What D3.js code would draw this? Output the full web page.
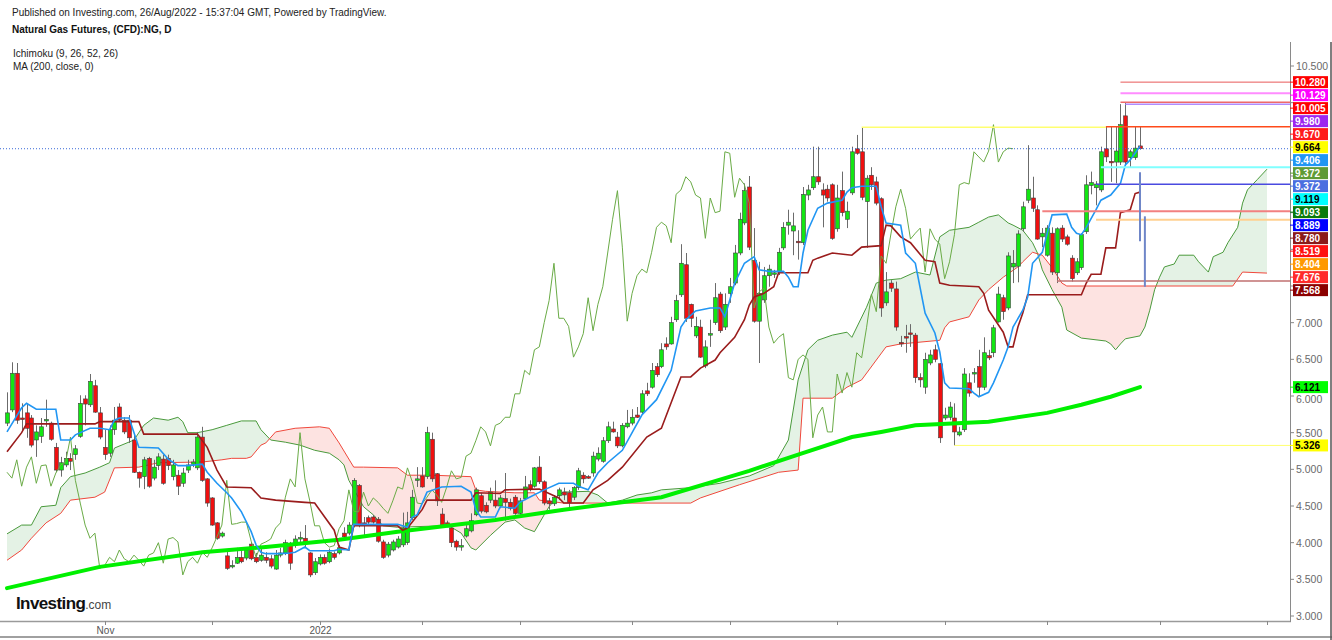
<!DOCTYPE html>
<html><head><meta charset="utf-8">
<script src="https://cdn.jsdelivr.net/npm/d3@7"></script>
<style>body{margin:0;background:#fff}svg{display:block;font-family:Arial,"Liberation Sans",sans-serif}</style>
</head><body><svg id="c" width="1332" height="640"></svg>
<script>
// ---- DATA ----
const openP=[5.63,5.81,6.31,5.70,5.77,5.70,5.40,5.45,5.67,5.63,5.30,4.99,5.06,5.15,5.20,5.45,5.96,5.88,6.14,5.77,5.30,5.22,5.54,5.85,5.67,5.67,5.40,4.96,4.90,5.15,4.88,5.05,5.14,5.15,4.90,4.92,4.81,4.99,5.07,5.02,5.44,4.87,4.61,4.27,4.09,3.82,3.67,3.72,3.80,3.79,3.98,3.80,3.76,3.80,3.78,3.64,3.83,3.86,3.97,3.97,4.06,4.06,3.86,3.59,3.71,3.80,3.74,3.85,3.86,4.13,4.13,4.24,4.78,4.27,4.34,4.35,4.32,4.01,3.83,3.90,3.94,3.97,4.00,4.34,4.86,4.91,4.90,5.41,4.94,4.39,4.27,4.20,4.02,3.95,4.09,4.16,4.38,4.64,4.51,4.58,4.58,4.50,4.60,4.55,4.62,4.40,4.60,4.79,4.77,5.03,4.83,4.57,4.53,4.64,4.69,4.68,4.62,4.75,4.92,4.90,4.95,5.14,5.11,5.39,5.55,5.44,5.32,5.58,5.63,5.74,5.78,6.07,6.12,6.40,6.40,6.71,6.71,7.04,7.38,7.79,7.25,6.82,6.94,6.41,6.84,7.00,7.39,6.94,7.40,7.54,7.95,8.36,8.85,7.85,7.02,7.31,7.64,7.67,7.69,8.02,8.33,8.25,8.11,8.09,8.74,8.84,8.99,8.81,8.82,8.88,8.28,8.80,8.41,8.77,9.37,9.33,8.65,9.01,8.92,8.69,7.27,7.54,7.46,6.73,6.81,6.86,6.83,6.25,6.12,6.45,6.63,6.44,5.70,5.71,5.70,5.47,5.54,6.18,6.31,6.40,6.12,6.55,6.59,7.01,7.34,7.20,7.76,7.77,8.28,8.67,8.70,8.54,8.17,7.92,8.22,7.68,8.29,8.17,7.88,7.68,7.75,8.24,8.87,8.84,8.81,9.37,9.20,9.19,9.19,9.82,9.25,9.25,9.41];
const highP=[6.05,6.46,6.45,5.90,5.90,5.74,5.60,5.70,5.95,5.65,5.36,5.17,5.24,5.22,5.33,6.01,6.01,6.30,6.22,5.85,5.54,5.60,5.85,5.90,5.71,5.74,5.47,4.97,5.17,5.17,5.13,5.22,5.20,5.20,5.13,4.99,5.02,5.13,5.14,5.51,5.58,4.88,4.62,4.28,4.15,3.90,3.76,3.93,3.93,3.94,4.01,3.86,3.93,3.87,3.83,3.90,3.93,4.04,4.01,4.10,4.15,4.24,3.87,3.79,3.84,3.84,3.92,3.88,3.97,4.21,4.28,4.88,4.80,4.35,4.37,4.38,4.35,4.04,4.01,4.04,4.09,4.41,4.42,4.72,5.03,5.03,5.58,5.50,4.95,4.47,4.30,4.22,4.04,4.05,4.24,4.40,4.75,4.68,4.55,4.75,4.85,4.65,4.95,4.60,4.65,4.61,4.91,4.85,5.03,5.18,4.85,4.61,4.65,4.75,4.75,4.72,4.77,5.02,4.96,4.92,5.24,5.30,5.44,5.65,5.65,5.51,5.63,5.81,5.82,5.85,6.08,6.18,6.45,6.45,6.72,6.80,7.08,7.38,8.07,7.95,7.26,7.08,7.04,6.76,7.04,7.54,7.42,7.40,7.61,8.06,8.50,8.90,9.00,8.29,7.83,7.76,7.79,7.72,8.02,8.37,8.54,8.50,8.26,8.85,8.88,9.40,9.40,8.90,8.88,8.90,8.88,9.06,8.65,9.40,9.56,9.664,9.01,9.12,8.99,8.71,7.69,7.58,7.56,6.82,6.97,6.98,6.86,6.31,6.59,6.63,6.70,6.45,5.84,5.92,5.90,5.58,6.38,6.31,6.38,6.63,6.80,6.63,6.97,7.49,7.38,7.96,7.99,8.26,8.65,9.42,8.99,8.60,8.29,8.33,8.30,8.30,8.33,8.20,7.92,7.88,8.22,9.01,9.06,8.93,9.40,9.67,9.67,9.67,9.98,10.005,9.36,9.67,9.67];
const lowP=[5.59,5.78,5.62,5.51,5.43,5.30,5.17,5.36,5.58,5.39,4.96,4.90,5.03,4.99,5.13,5.43,5.60,5.85,5.77,5.41,5.13,5.17,5.47,5.65,5.48,5.36,4.95,4.75,4.73,4.75,4.85,4.99,4.79,4.99,4.85,4.65,4.76,4.95,5.03,4.99,4.83,4.49,4.23,4.04,4.07,3.63,3.65,3.71,3.72,3.76,3.76,3.72,3.74,3.72,3.65,3.63,3.80,3.83,3.63,3.93,4.00,3.94,3.53,3.56,3.69,3.70,3.72,3.77,3.84,4.05,4.10,4.21,4.21,4.10,4.25,4.26,4.00,3.78,3.80,3.88,3.92,3.94,3.97,4.31,4.76,4.75,4.87,4.83,4.50,4.20,4.21,3.94,3.89,3.89,4.07,4.14,4.36,4.40,4.40,4.54,4.47,4.47,4.30,4.44,4.38,4.35,4.58,4.70,4.75,4.80,4.51,4.45,4.50,4.58,4.58,4.47,4.58,4.72,4.81,4.87,4.90,5.11,5.09,5.36,5.50,5.29,5.30,5.56,5.60,5.70,5.75,6.00,6.10,6.26,6.38,6.63,6.70,7.01,7.35,7.01,6.94,6.79,6.52,6.38,6.67,6.97,6.86,6.90,7.27,7.51,7.92,8.33,7.99,7.00,6.45,7.27,7.49,7.61,7.65,7.99,8.20,7.92,7.86,8.06,8.67,8.81,8.88,8.30,8.65,8.13,8.24,8.45,8.29,8.74,9.29,8.67,8.02,8.81,8.60,7.08,7.23,7.42,6.89,6.67,6.59,6.67,6.18,6.12,6.03,6.42,6.46,5.36,5.67,5.67,5.326,5.45,5.51,5.99,6.18,5.99,6.08,6.49,6.53,7.00,7.04,7.17,7.54,7.55,8.24,8.63,8.51,8.13,8.03,7.90,7.65,7.54,8.10,8.05,7.56,7.65,7.72,8.21,8.75,8.60,8.78,9.19,8.92,8.90,9.15,9.15,9.12,9.22,9.36];
const closeP=[5.77,6.31,5.67,5.69,5.56,5.33,5.51,5.58,5.68,5.41,4.99,5.09,5.15,5.11,5.28,5.90,5.89,6.20,5.78,5.44,5.20,5.54,5.67,5.67,5.51,5.43,4.96,4.88,5.13,4.77,5.03,5.17,4.81,5.05,5.06,4.77,4.95,5.06,5.10,5.44,4.85,4.54,4.24,4.06,4.13,3.65,3.69,3.80,3.74,3.90,3.78,3.74,3.83,3.76,3.68,3.83,3.86,4.00,3.72,4.05,4.07,4.01,3.56,3.74,3.80,3.72,3.87,3.80,3.93,4.08,4.24,4.85,4.25,4.26,4.28,4.28,4.02,3.80,3.98,4.01,4.05,4.20,4.27,4.62,4.87,4.76,5.50,4.87,4.57,4.23,4.23,4.00,3.94,3.96,4.19,4.30,4.72,4.43,4.42,4.69,4.50,4.61,4.55,4.47,4.40,4.57,4.76,4.73,5.02,4.83,4.54,4.53,4.62,4.72,4.65,4.55,4.75,4.98,4.87,4.89,5.18,5.22,5.39,5.58,5.51,5.32,5.60,5.63,5.71,5.71,6.03,6.03,6.35,6.29,6.63,6.67,7.00,7.30,7.81,7.06,7.06,6.95,6.53,6.67,6.85,7.34,6.89,7.25,7.49,7.95,8.41,8.80,8.03,7.02,7.40,7.64,7.73,7.68,7.96,8.30,8.37,8.32,8.09,8.75,8.81,8.99,8.92,8.74,8.70,8.15,8.70,8.50,8.52,9.33,9.31,8.71,8.97,8.88,8.63,7.20,7.42,7.47,6.94,6.72,6.80,6.85,6.25,6.22,6.50,6.56,6.50,5.43,5.74,5.85,5.51,5.51,6.30,6.04,6.32,6.12,6.59,6.52,6.93,7.39,7.15,7.91,7.81,8.21,8.58,8.82,8.56,8.14,8.22,8.29,7.69,8.28,8.14,8.07,7.60,7.83,8.20,8.88,8.91,8.89,9.33,9.26,9.19,9.34,9.70,9.19,9.33,9.38,9.372];

// Indicator lines as [bar index, value]
const tenkan=[[0,5.51],[3,5.84],[4,5.90],[6,5.82],[10,5.82],[11,5.40],[13,5.40],[14,5.47],[17,5.56],[19,5.56],[21,5.54],[22,5.67],[23,5.70],[25,5.70],[27,5.30],[31,5.29],[33,5.14],[35,5.05],[37,5.05],[40,5.07],[41,4.96],[43,4.81],[45,4.68],[46,4.61],[48,4.42],[50,4.15],[51,3.97],[52,3.87],[53,3.85],[56,3.85],[58,3.86],[59,3.87],[61,3.94],[62,3.89],[67,3.89],[68,3.91],[70,3.90],[71,4.25],[80,4.25],[82,4.21],[83,4.35],[84,4.38],[86,4.69],[89,4.76],[93,4.77],[95,4.69],[96,4.45],[97,4.35],[100,4.35],[101,4.49],[104,4.47],[105,4.55],[107,4.62],[110,4.72],[113,4.81],[116,4.81],[117,4.77],[119,4.72],[121,4.95],[123,5.09],[126,5.26],[128,5.50],[130,5.74],[133,5.95],[136,6.35],[138,6.94],[139,7.04],[141,7.16],[144,7.20],[146,7.20],[147,7.08],[148,7.31],[149,7.54],[151,7.81],[153,7.90],[154,7.72],[156,7.70],[159,7.70],[160,7.62],[161,7.49],[162,7.49],[163,7.95],[164,8.26],[166,8.56],[168,8.63],[171,8.67],[172,8.78],[173,8.84],[175,8.86],[178,8.86],[179,8.58],[180,8.36],[183,8.33],[184,7.95],[186,7.81],[188,7.13],[190,6.86],[191,6.60],[192,6.18],[193,6.11],[197,6.10],[198,6.04],[199,5.99],[201,6.05],[202,6.18],[204,6.49],[205,6.67],[206,6.94],[208,7.17],[209,7.35],[210,7.81],[212,7.96],[213,8.22],[214,8.47],[217,8.48],[218,8.30],[219,8.22],[220,8.20],[221,8.30],[223,8.54],[224,8.67],[226,8.74],[228,8.90],[229,9.15],[230,9.22],[232,9.406]];
const kijun=[[0,5.24],[3,5.50],[4,5.62],[18,5.62],[19,5.65],[27,5.65],[28,5.48],[39,5.48],[41,5.30],[43,4.99],[45,4.76],[50,4.75],[52,4.61],[55,4.58],[61,4.55],[63,4.54],[67,4.17],[68,3.94],[70,3.90],[71,4.23],[80,4.23],[81,4.17],[82,4.20],[85,4.45],[86,4.58],[95,4.58],[96,4.68],[101,4.67],[102,4.72],[109,4.73],[113,4.61],[114,4.54],[118,4.54],[120,4.72],[123,4.85],[126,5.03],[131,5.44],[134,5.56],[138,6.26],[140,6.26],[142,6.38],[145,6.49],[146,6.59],[149,6.80],[151,7.04],[152,7.24],[153,7.35],[155,7.40],[157,7.49],[158,7.68],[164,7.68],[165,7.85],[166,7.88],[169,7.95],[173,7.92],[175,8.03],[179,8.05],[180,8.33],[181,8.32],[183,8.17],[185,8.09],[188,7.85],[190,7.83],[191,7.54],[193,7.51],[199,7.49],[200,7.40],[201,7.17],[204,6.87],[205,6.67],[206,6.67],[207,6.94],[208,7.13],[209,7.38],[220,7.38],[221,7.54],[222,7.66],[224,7.66],[225,8.02],[227,8.02],[228,8.50],[230,8.54],[231,8.76],[232,8.78]];
const senkouA=[[0,4.12],[3,4.24],[5,4.24],[7,4.49],[10,4.51],[11,4.75],[13,4.90],[16,4.95],[19,5.03],[21,5.09],[22,5.29],[26,5.40],[28,5.60],[30,5.70],[33,5.67],[35,5.71],[36,5.65],[37,5.50],[39,5.50],[42,5.54],[45,5.60],[48,5.66],[51,5.66],[52,5.54],[54,5.40],[57,5.37],[60,5.33],[63,5.26],[66,5.22],[68,5.13],[69,5.06],[70,4.85],[73,4.49],[75,4.38],[77,4.23],[80,4.21],[89,4.23],[91,4.21],[93,4.13],[95,3.93],[96,3.90],[99,4.10],[102,4.28],[104,4.31],[106,4.20],[108,4.15],[110,4.38],[111,4.49],[113,4.65],[114,4.69],[119,4.70],[121,4.65],[123,4.54],[126,4.58],[129,4.65],[132,4.68],[134,4.72],[140,4.75],[146,4.81],[152,4.91],[157,5.05],[160,5.40],[162,6.22],[164,6.63],[166,6.76],[169,6.83],[172,6.87],[173,6.80],[176,7.21],[178,7.54],[180,7.58],[183,7.60],[186,7.69],[189,7.65],[191,8.17],[193,8.26],[197,8.30],[199,8.37],[201,8.44],[203,8.47],[205,8.36],[206,8.33],[208,8.26],[210,8.09],[211,7.95],[212,7.72],[214,7.45],[216,7.21],[217,6.90],[220,6.79],[225,6.75],[226,6.71],[227,6.63],[228,6.71],[229,6.78],[232,6.82],[233,6.94],[234,7.17],[235,7.45],[236,7.62],[237,7.76],[239,7.80],[240,7.92],[243,7.92],[244,7.83],[246,7.69],[247,7.90],[249,7.96],[250,8.09],[252,8.30],[253,8.63],[254,8.81],[256,8.95],[258,9.093]];
const senkouB=[[0,3.76],[3,3.90],[5,4.06],[8,4.27],[11,4.40],[13,4.58],[18,4.62],[20,4.69],[22,5.02],[27,5.03],[31,5.09],[40,5.10],[44,5.13],[46,5.15],[49,5.15],[50,5.17],[52,5.33],[53,5.36],[55,5.51],[59,5.56],[64,5.58],[66,5.56],[68,5.36],[71,5.03],[73,5.03],[80,5.02],[82,4.92],[87,4.92],[95,4.90],[96,4.72],[98,4.70],[104,4.68],[108,4.68],[109,4.58],[114,4.54],[140,4.54],[142,4.61],[150,4.79],[158,4.96],[162,4.99],[163,5.97],[169,5.97],[172,6.12],[175,6.22],[180,6.67],[183,6.71],[191,6.76],[192,6.93],[193,7.01],[197,7.08],[199,7.31],[201,7.45],[204,7.62],[207,7.76],[208,7.83],[210,7.96],[212,7.92],[214,7.75],[216,7.54],[217,7.50],[251,7.50],[253,7.69],[258,7.676]];
const ma200=[[0,3.38],[19,3.67],[40,3.87],[53,3.94],[68,4.04],[80,4.15],[100,4.31],[114,4.45],[134,4.62],[152,4.98],[162,5.20],[173,5.44],[179,5.51],[186,5.60],[201,5.65],[213,5.77],[220,5.88],[226,5.99],[232,6.121]];
const chikouShift=26;

// Drawn horizontal levels
const levelValues=[10.28,10.129,10.005,9.98,9.67,9.664,9.119,8.889,8.519,8.404,7.568,5.326];
const levelFrom=[228,228,228,229,225,175,224,223,212,223,215,194];
const levelTo=[null,null,null,null,null,225,null,null,null,null,null,null];
const levelColors=["#e85a5a","#ff8cff","#ee6a6a","#b08cff","#ff4a1a","#ffff70","#80ffff","#4a4ae0","#f28080","#ffd090","#c07070","#ffff70"];
const levelWidths=[1,2,1.5,1.5,1.5,1.5,2,1.5,2,2,1.5,1];
// Drawn vertical segments [bar index, from, to]
const vSegs=[[232,9.05,8.11],[233,8.45,7.49]];
const lastPrice=9.372;

// Right axis tags
const tagValues=[10.280,10.129,10.005,9.980,9.670,9.664,9.406,9.372,9.372,9.119,9.093,8.889,8.780,8.519,8.404,7.676,7.568,6.121,5.326];
const tagColors=["#ff0000","#ff00ff","#ff0000","#9c27f0","#ff1a1a","#ffff00","#2196f3","#5f9b35","#4a6ee0","#00ffff","#0a7a0a","#0000ff","#8b1a1a","#ff1111","#ff9800","#ff2a2a","#8b0000","#00ff00","#ffff00"];
const tagText=["#fff","#fff","#fff","#fff","#fff","#000","#fff","#fff","#fff","#000","#fff","#fff","#fff","#fff","#fff","#fff","#fff","#000","#000"];

const yTicks=[3,3.5,4,4.5,5,5.5,6,6.5,7,7.5,8,8.5,9,9.5,10,10.5];
const monthLabels=["Nov","","2022","","","","","","","","",""];
const firstDay="2021-10-04";
const holidays=["2021-12-24","2022-04-15"];

// ---- CHART ----
const svg=d3.select("#c");
const L=0,R=1290,T=42,B=621;
const x=d3.scaleLinear().domain([0,232]).range([7,1140]);
const y=d3.scaleLinear().domain([3,10.5]).range([616,66]);

// trading days (categories of the x axis)
const days=[];
for(let d=new Date(firstDay+"T00:00:00Z");days.length<262;d.setUTCDate(d.getUTCDate()+1)){
  const wd=d.getUTCDay(),s=d.toISOString().slice(0,10);
  if(wd===0||wd===6||holidays.includes(s))continue; days.push(s);
}
const monthStarts=[];
days.forEach((s,i)=>{if(i>0&&s.slice(0,7)!==days[i-1].slice(0,7))monthStarts.push(i);});

svg.append("defs").html(`<clipPath id="plot"><rect x="${L}" y="${T}" width="${R-L}" height="${B-T}"/></clipPath>`);
const defs=svg.select("defs");
const areaTop=d3.area().x(d=>x(d[0])).y0(T).y1(d=>y(d[1]));
const areaBot=d3.area().x(d=>x(d[0])).y0(B).y1(d=>y(d[1]));
defs.append("clipPath").attr("id","aboveB").append("path").attr("d",areaTop(senkouB));
defs.append("clipPath").attr("id","belowB").append("path").attr("d",areaBot(senkouB));

const g=svg.append("g").attr("clip-path","url(#plot)");
// cloud
g.append("g").attr("clip-path","url(#aboveB)").append("path").attr("d",areaBot(senkouA)).attr("fill","rgba(67,160,71,0.14)");
g.append("g").attr("clip-path","url(#belowB)").append("path").attr("d",areaTop(senkouA)).attr("fill","rgba(244,67,54,0.15)");
const line=d3.line().x(d=>x(d[0])).y(d=>y(d[1]));
g.append("path").attr("d",line(senkouA)).attr("fill","none").attr("stroke","#4a9a3c").attr("stroke-width",1);
g.append("path").attr("d",line(senkouB)).attr("fill","none").attr("stroke","#f0483c").attr("stroke-width",1);

// candles
const cg=g.append("g");
closeP.forEach((c,i)=>{
  const o=openP[i],up=c>=o,cx=Math.round(x(i))+0.5;
  cg.append("line").attr("x1",cx).attr("x2",cx).attr("y1",y(highP[i])).attr("y2",y(lowP[i])).attr("stroke","#6b6b6b").attr("stroke-width",1);
  const top=y(Math.max(o,c)),h=Math.max(1.5,Math.abs(y(o)-y(c)));
  cg.append("rect").attr("x",cx-2).attr("width",4).attr("y",top).attr("height",h)
    .attr("fill",up?"#12e612":"#f01010").attr("stroke","#404040").attr("stroke-width",0.6);
});

// chikou (close shifted back)
const chik=closeP.map((c,i)=>[i-chikouShift,c]).filter(d=>d[0]>=0);
g.append("path").attr("d",line(chik)).attr("fill","none").attr("stroke","#6aab46").attr("stroke-width",1);
g.append("path").attr("d",line(ma200)).attr("fill","none").attr("stroke","#00f000").attr("stroke-width",4).attr("stroke-linecap","round");
g.append("path").attr("d",line(kijun)).attr("fill","none").attr("stroke","#9a1c1c").attr("stroke-width",1.6);
g.append("path").attr("d",line(tenkan)).attr("fill","none").attr("stroke","#2196f3").attr("stroke-width",1.6);

// levels
levelValues.forEach((v,k)=>{
  g.append("line").attr("x1",x(levelFrom[k])).attr("x2",levelTo[k]==null?R:x(levelTo[k]))
   .attr("y1",y(v)).attr("y2",y(v)).attr("stroke",levelColors[k]).attr("stroke-width",levelWidths[k]);
});
vSegs.forEach(s=>{g.append("line").attr("x1",x(s[0])).attr("x2",x(s[0])).attr("y1",y(s[1])).attr("y2",y(s[2])).attr("stroke","#6f86c8").attr("stroke-width",2);});
g.append("line").attr("x1",L).attr("x2",R).attr("y1",y(lastPrice)).attr("y2",y(lastPrice)).attr("stroke","#3a6ad8").attr("stroke-width",1).attr("stroke-dasharray","1,2");

// axes frame
svg.append("line").attr("x1",0).attr("x2",R+1).attr("y1",B+0.5).attr("y2",B+0.5).attr("stroke","#9a9a9a").attr("stroke-width",1.5);
svg.append("line").attr("x1",0).attr("x2",1332).attr("y1",637).attr("y2",637).attr("stroke","#a0a0a0").attr("stroke-width",2);
svg.append("line").attr("x1",R+0.5).attr("x2",R+0.5).attr("y1",T).attr("y2",B+1).attr("stroke","#8a8a8a").attr("stroke-width",1);
svg.append("line").attr("x1",1331).attr("x2",1331).attr("y1",T).attr("y2",640).attr("stroke","#555").attr("stroke-width",1.5);

// x ticks
monthStarts.forEach((i,k)=>{
  const px=Math.round(x(i))+0.5; if(px>R)return;
  svg.append("line").attr("x1",px).attr("x2",px).attr("y1",B).attr("y2",B+4).attr("stroke","#888");
  if(monthLabels[k])svg.append("text").attr("x",px).attr("y",B+13).attr("text-anchor","middle").attr("font-size",10).attr("fill","#555").text(monthLabels[k]);
});

// tag positions (stacked)
const tagY=[];tagValues.forEach((v,k)=>{let yy=y(v);if(k>0&&tagValues[k-1]-v<1)yy=Math.max(yy,tagY[k-1]+13);tagY.push(yy);});

// y ticks
yTicks.forEach(v=>{
  const yy=y(v);
  svg.append("line").attr("x1",R).attr("x2",R+4).attr("y1",yy).attr("y2",yy).attr("stroke","#888");
  const near=tagY.filter(t=>Math.abs(t-yy)<14);
  if(near.some(t=>Math.abs(t-yy)<7))return;
  let by=yy+4;
  near.forEach(t=>{ if(t<yy) by=Math.max(by,t+6+10); else by=Math.min(by,t-6-1); });
  svg.append("text").attr("x",R+6).attr("y",by).attr("font-size",10.5).attr("fill","#6a6a6a").text(v.toFixed(3));
});
tagValues.forEach((v,k)=>{
  const yy=tagY[k];
  svg.append("line").attr("x1",R).attr("x2",R+4).attr("y1",yy).attr("y2",yy).attr("stroke",tagColors[k]);
  svg.append("rect").attr("x",R+3).attr("y",yy-6).attr("width",35).attr("height",12).attr("fill",tagColors[k]);
  svg.append("text").attr("x",R+5).attr("y",yy+4).attr("font-size",10).attr("font-weight","bold").attr("fill",tagText[k]).text(v.toFixed(3));
});

// header texts
svg.append("text").attr("x",12).attr("y",16).attr("font-size",10).attr("fill","#222").text("Published on Investing.com, 26/Aug/2022 - 15:37:04 GMT, Powered by TradingView.");
svg.append("text").attr("x",12).attr("y",33).attr("font-size",10).attr("font-weight","bold").attr("fill","#111").text("Natural Gas Futures, (CFD):NG, D");
svg.append("text").attr("x",13).attr("y",57).attr("font-size",10).attr("fill","#222").text("Ichimoku (9, 26, 52, 26)");
svg.append("text").attr("x",13).attr("y",70).attr("font-size",10).attr("fill","#222").text("MA (200, close, 0)");
const logo=svg.append("text").attr("x",16).attr("y",609);
logo.append("tspan").attr("font-size",17).attr("font-weight","bold").attr("fill","#111").attr("letter-spacing","-0.6").text("Investing");
logo.append("tspan").attr("font-size",12).attr("fill","#444").text(".com");
</script></body></html>
